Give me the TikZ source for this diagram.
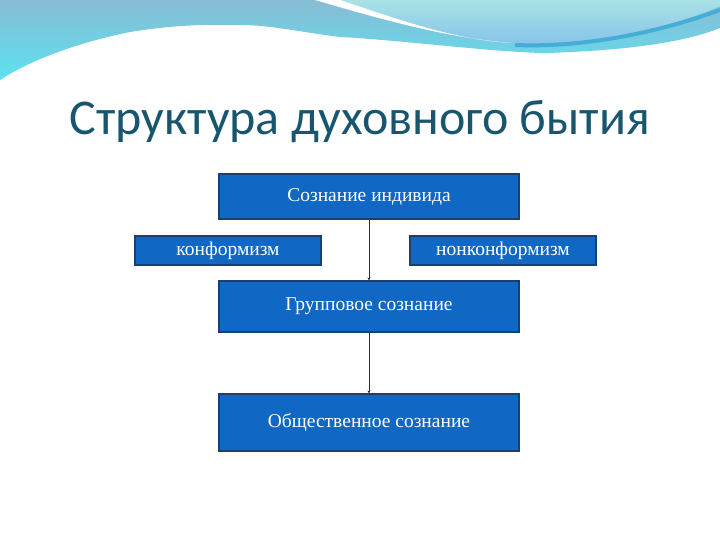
\documentclass[tikz,border=0pt]{standalone}
\usepackage{fontspec}
\setmainfont{Liberation Serif}
\newfontfamily\titlefont{Carlito}
\usetikzlibrary{arrows.meta}
\definecolor{boxfill}{RGB}{16,104,196}
\definecolor{boxline}{RGB}{25,64,115}
\definecolor{titlecol}{RGB}{24,86,112}
\definecolor{bandtop}{RGB}{136,188,212}
\definecolor{bandbot}{RGB}{92,226,240}
\definecolor{bubtop}{RGB}{168,226,230}
\definecolor{bubbot}{RGB}{134,194,234}
\definecolor{stripe}{RGB}{70,174,214}
\definecolor{connline}{RGB}{30,45,75}
\tikzset{
  box/.style={draw=boxline, line width=1.2pt, fill=boxfill, text=white,
    font=\fontsize{19.5}{22}\selectfont, inner sep=0pt},
  conn/.style={draw=connline, line width=0.8pt, -{Stealth[length=3pt,width=3pt]}}
}
\begin{document}
\begin{tikzpicture}[x=1pt,y=-1pt]
\useasboundingbox (0,0) rectangle (720,540);
\fill[white] (0,0) rectangle (720,540);
% top band
\shade[top color=bandtop, bottom color=bandbot]
  (0,0) -- (720,0) -- (720,28)
  .. controls (690,40) and (640,50) .. (547,53)
  .. controls (500,53) and (400,40) .. (340,37)
  .. controls (300,32) and (270,25) .. (240,25)
  .. controls (200,24) and (167,26) .. (130,32)
  .. controls (80,42) and (30,60) .. (0,80) -- cycle;
% bubble
\shade[top color=bubtop, bottom color=bubbot]
  (330,0) .. controls (400,22) and (455,42) .. (525,44)
  .. controls (600,46) and (670,28) .. (720,6) -- (720,0) -- cycle;
% white stripe
\fill[white] (315,0) .. controls (390,22) and (450,38) .. (512,43)
  .. controls (455,40) and (400,20) .. (340,0) -- cycle;
% dark stripe
\draw[stripe, line width=4pt] (515,45) .. controls (590,48) and (665,30) .. (720,10);
% title
\node[text=titlecol, font=\titlefont\fontsize{50}{56}\selectfont, anchor=base] (title) at (360,135) {Структура духовного бытия};
% boxes
\node[box, minimum width=300pt, minimum height=45pt] (ind) at (369,196.5) {Сознание индивида};
\node[box, minimum width=186pt, minimum height=29pt] (konf) at (228,250.5) {конформизм};
\node[box, minimum width=186pt, minimum height=29pt] (nonk) at (503,250.5) {нонконформизм};
\node[box, minimum width=300pt, minimum height=51pt] (grp) at (369,306.5) {Групповое сознание};
\node[box, minimum width=300pt, minimum height=57pt] (obsh) at (369,422.5) {Общественное сознание};
% connectors
\draw[conn] (ind.south) -- (grp.north);
\draw[conn] (grp.south) -- (obsh.north);
\end{tikzpicture}
\end{document}
